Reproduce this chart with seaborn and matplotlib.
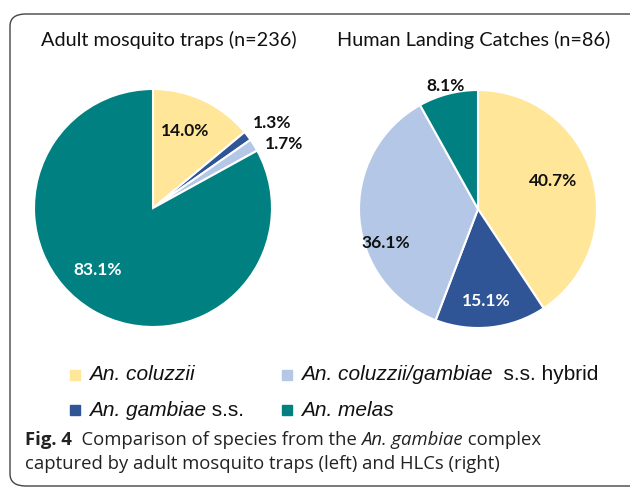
import matplotlib
matplotlib.use("Agg")
import matplotlib.pyplot as plt
import seaborn as sns
from matplotlib.patches import FancyBboxPatch, Rectangle

sns.set_theme(style="white")
plt.rcParams["font.family"] = ["Lato", "DejaVu Sans"]

species = ["An. coluzzii", "An. gambiae s.s.", "An. coluzzii/gambiae s.s. hybrid", "An. melas"]
colors = ["#FFE699", "#2F5597", "#B4C7E7", "#008080"]
trap_pct = [14.0, 1.3, 1.7, 83.1]
hlc_pct = [40.7, 15.1, 36.1, 8.1]
titles = ["Adult mosquito traps (n=236)", "Human Landing Catches (n=86)"]

W, H = 630, 488
fig = plt.figure(figsize=(W / 100, H / 100), dpi=100)


def fx(px):
    return px / W


def fy(py):
    return 1 - py / H


# rounded frame
fig.patches.append(FancyBboxPatch((fx(10), fy(486)), fx(640), fy(14) - fy(486),
                                  boxstyle="round,pad=0,rounding_size=0.025",
                                  transform=fig.transFigure, fc="none",
                                  ec="#444444", lw=1.0))


def draw_pie(values, cx, cy, r):
    ax = fig.add_axes([fx(cx - r), fy(cy + r), fx(2 * r), (2 * r) / H])
    ax.pie(values, colors=colors, startangle=90, counterclock=False, radius=1,
           wedgeprops=dict(edgecolor="white", linewidth=1.5))
    ax.set_xlim(-1, 1)
    ax.set_ylim(-1, 1)
    ax.set_aspect("equal")
    ax.axis("off")
    return ax


ax1 = draw_pie(trap_pct, 153, 208, 119)
ax2 = draw_pie(hlc_pct, 478, 209, 119)

fig.text(fx(169), fy(40), titles[0], ha="center", va="center", fontsize=14.3, color="#111111")
fig.text(fx(474), fy(40), titles[1], ha="center", va="center", fontsize=14.3, color="#111111")

# percentage labels
lab = dict(ha="center", va="center", fontsize=12.5, fontweight="bold")
fig.text(fx(185), fy(131), f"{trap_pct[0]:.1f}%", color="#111111", **lab)
fig.text(fx(272), fy(123), f"{trap_pct[1]:.1f}%", color="#111111", **lab)
fig.text(fx(284), fy(144), f"{trap_pct[2]:.1f}%", color="#111111", **lab)
fig.text(fx(98), fy(270), f"{trap_pct[3]:.1f}%", color="white", **lab)
fig.text(fx(553), fy(181), f"{hlc_pct[0]:.1f}%", color="#111111", **lab)
fig.text(fx(486), fy(301), f"{hlc_pct[1]:.1f}%", color="white", **lab)
fig.text(fx(386), fy(243), f"{hlc_pct[2]:.1f}%", color="#111111", **lab)
fig.text(fx(446), fy(86), f"{hlc_pct[3]:.1f}%", color="#111111", **lab)

renderer = fig.canvas.get_renderer()


def rich_text(x, y, pieces, family, size, color="#111111"):
    # draw a line made of differently styled pieces
    for txt, style, weight in pieces:
        t = fig.text(fx(x), fy(y), txt, ha="left", va="center", fontsize=size,
                     family=family, style=style, fontweight=weight, color=color)
        bb = t.get_window_extent(renderer=renderer)
        x += bb.width


leg_font = ["Liberation Sans", "DejaVu Sans"]
legend_rows = [
    (70, 375, colors[0], [("An. coluzzii", "italic", "normal")]),
    (282, 375, colors[2], [("An. coluzzii/gambiae", "italic", "normal"), ("  s.s. hybrid", "normal", "normal")]),
    (70, 410, colors[1], [("An. gambiae", "italic", "normal"), (" s.s.", "normal", "normal")]),
    (282, 410, colors[3], [("An. melas", "italic", "normal")]),
]
for x, y, c, pieces in legend_rows:
    fig.patches.append(Rectangle((fx(x), fy(y + 5)), fx(10), 10 / H, color=c,
                                 transform=fig.transFigure))
    rich_text(x + 19, y, pieces, leg_font, 15)

cap_font = ["Open Sans", "DejaVu Sans"]
rich_text(25, 440, [("Fig. 4", "normal", "bold"),
                    ("  Comparison of species from the ", "normal", "normal"),
                    ("An. gambiae", "italic", "normal"),
                    (" complex", "normal", "normal")], cap_font, 13.3, "#222222")
rich_text(25, 464, [("captured by adult mosquito traps (left) and HLCs (right)", "normal", "normal")],
          cap_font, 13.3, "#222222")

fig.savefig("out.png", dpi=100)
